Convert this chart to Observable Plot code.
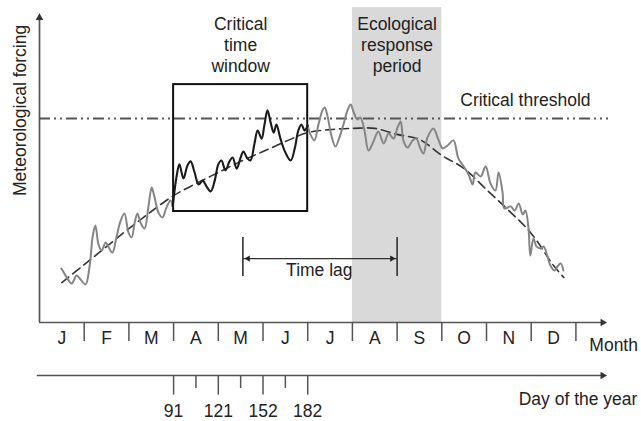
<!DOCTYPE html>
<html>
<head>
<meta charset="utf-8">
<script src="https://cdn.jsdelivr.net/npm/d3@7"></script>
<script src="https://cdn.jsdelivr.net/npm/@observablehq/plot@0.6"></script>
<style>
  html, body { margin: 0; padding: 0; background: #fff; }
  #chart svg { display: block; }
</style>
</head>
<body>
<div id="chart"></div>
<script>
// ---- data (x in months since 1 Jan, y in arbitrary forcing units) ----
const monthLabels = ["J", "F", "M", "A", "M", "J", "J", "A", "S", "O", "N", "D"];
const monthBounds = [1, 2, 3, 4, 5, 6, 7, 8, 9, 10, 11, 12];
const monthMids = [0.5, 1.5, 2.5, 3.5, 4.5, 5.5, 6.5, 7.5, 8.5, 9.5, 10.5, 11.5];
const dayTicks = [3, 4, 5, 6];
const dayLabels = ["91", "121", "152", "182"];
const dayMinorTicks = [3.5, 4.5, 5.5];
const thresholdValue = 68;
const criticalWindow = [{start: 3, end: 6, low: 37, high: 79.3}];
const responsePeriod = [{start: 7, end: 9}];
const timeLag = [{start: 4.55, end: 8.0, level: 21.3}];

// dashed seasonal trend
const trend = [
  [0.5, 13.3], [1, 19.3], [1.5, 25.3], [2, 31.3], [2.5, 37.0], [3, 42.3], [3.5, 46.3],
  [4, 50.0], [4.5, 53.7], [5, 57.0], [5.5, 60.3], [6, 63.3], [6.5, 64.3], [7, 64.7],
  [7.5, 64.7], [8, 62.7], [8.5, 61.0], [9, 55.7], [9.5, 51.3], [10, 44.3], [10.5, 37.3],
  [11, 29.7], [11.5, 19.0], [11.73, 15.0]
];

// noisy forcing, before the critical window (grey)
const forcingBefore = [
  [0.49, 18.0], [0.60, 15.3], [0.72, 13.0], [0.83, 15.7], [0.92, 14.3], [1.03, 12.7],
  [1.12, 18.7], [1.19, 28.7], [1.25, 32.3], [1.32, 26.0], [1.39, 24.0], [1.48, 26.7],
  [1.54, 25.3], [1.63, 23.3], [1.72, 28.3], [1.81, 33.7], [1.90, 36.3], [1.99, 30.0],
  [2.06, 28.3], [2.13, 33.3], [2.19, 36.3], [2.26, 33.3], [2.35, 31.3], [2.44, 39.0],
  [2.51, 45.0], [2.57, 42.0], [2.66, 36.7], [2.75, 35.0], [2.84, 38.3], [2.93, 40.7],
  [2.98, 38.7]
];

// noisy forcing inside the critical window (black)
const forcingWindow = [
  [2.98, 38.7], [3.07, 49.0], [3.13, 52.7], [3.22, 48.0], [3.31, 52.3], [3.38, 53.7],
  [3.47, 50.0], [3.56, 46.0], [3.65, 47.3], [3.74, 45.3], [3.83, 43.7], [3.92, 47.3],
  [4.00, 52.7], [4.07, 54.0], [4.16, 50.7], [4.25, 53.7], [4.32, 55.0], [4.41, 51.3],
  [4.50, 55.0], [4.56, 57.0], [4.65, 54.7], [4.72, 54.0], [4.81, 59.7], [4.88, 64.0],
  [4.97, 61.3], [5.03, 65.7], [5.10, 70.7], [5.17, 66.7], [5.24, 63.3], [5.30, 66.0],
  [5.39, 61.3], [5.50, 56.7], [5.62, 54.0], [5.71, 58.0], [5.79, 64.0], [5.86, 66.0],
  [5.93, 64.0], [6.00, 65.7]
];

// noisy forcing after the critical window (grey)
const forcingAfter = [
  [6.00, 65.7], [6.06, 62.7], [6.15, 60.7], [6.24, 66.0], [6.33, 70.7], [6.38, 71.7],
  [6.44, 69.0], [6.53, 62.3], [6.62, 58.7], [6.71, 61.7], [6.80, 66.0], [6.89, 70.7],
  [6.96, 72.7], [7.03, 70.0], [7.11, 67.7], [7.18, 68.3], [7.27, 64.0], [7.36, 57.3],
  [7.47, 60.3], [7.58, 63.7], [7.70, 59.7], [7.81, 63.0], [7.92, 61.3], [8.01, 65.0],
  [8.08, 67.0], [8.14, 60.7], [8.23, 58.3], [8.35, 60.7], [8.43, 61.3], [8.52, 58.0],
  [8.59, 56.3], [8.68, 61.7], [8.81, 64.7], [8.93, 60.7], [9.02, 58.0], [9.13, 59.0],
  [9.26, 60.7], [9.37, 54.7], [9.49, 52.0], [9.60, 49.3], [9.69, 46.0], [9.75, 50.0],
  [9.87, 48.7], [9.98, 52.0], [10.09, 46.3], [10.20, 44.0], [10.27, 50.0], [10.36, 43.3],
  [10.40, 38.0], [10.54, 38.7], [10.63, 37.3], [10.72, 39.7], [10.81, 36.0], [10.87, 37.3],
  [10.94, 31.3], [10.98, 22.3], [11.05, 28.0], [11.12, 25.3], [11.21, 24.7], [11.28, 25.3],
  [11.37, 21.7], [11.43, 19.0], [11.52, 17.3], [11.59, 18.7], [11.66, 19.7], [11.72, 17.3]
];

// ---- chart ----
const axisColor = "#555";
const textColor = "#222";
const px = d => d[0], py = d => d[1];

const chart = Plot.plot({
  width: 641,
  height: 421,
  marginLeft: 39,
  marginRight: 34.3,
  marginTop: 7,
  marginBottom: 99,
  x: {domain: [0, 12.7], label: null},
  y: {domain: [0, 105], axis: null, label: null},
  style: {
    fontFamily: '"Liberation Sans", Arial, Helvetica, sans-serif',
    fontSize: "17.5px",
    color: textColor,
    background: "#fff",
    overflow: "visible"
  },
  marks: [
    // ecological response period
    Plot.rect(responsePeriod, {x1: "start", x2: "end", y1: 0, y2: 105, fill: "#d9d9d9"}),
    // critical threshold
    Plot.ruleY([thresholdValue], {x1: 0, x2: 12.73, stroke: "#555", strokeWidth: 2, strokeDasharray: "11,4,2,4,2,4"}),
    // critical time window box
    Plot.rect(criticalWindow, {x1: "start", x2: "end", y1: "low", y2: "high", fill: "none", stroke: "#111", strokeWidth: 2}),
    // seasonal trend
    Plot.line(trend, {x: px, y: py, curve: "catmull-rom", stroke: "#333", strokeWidth: 1.6, strokeDasharray: "9,5"}),
    // noisy forcing
    Plot.line(forcingBefore, {x: px, y: py, curve: "catmull-rom", stroke: "#858585", strokeWidth: 2}),
    Plot.line(forcingAfter, {x: px, y: py, curve: "catmull-rom", stroke: "#858585", strokeWidth: 2}),
    Plot.line(forcingWindow, {x: px, y: py, curve: "catmull-rom", stroke: "#1a1a1a", strokeWidth: 2.1}),

    // time lag
    Plot.ruleX(timeLag, {x: "start", y1: 15.3, y2: 28.3, stroke: "#333", strokeWidth: 1.6}),
    Plot.ruleX(timeLag, {x: "end", y1: 15.3, y2: 28.3, stroke: "#333", strokeWidth: 1.6}),
    Plot.ruleY(timeLag, {y: "level", x1: "start", x2: "end", stroke: "#333", strokeWidth: 1.4}),
    Plot.dot(timeLag, {x: d => d.start + 0.115, y: "level", symbol: "triangle", r: 2.3, rotate: -90, fill: "#222", stroke: "none"}),
    Plot.dot(timeLag, {x: d => d.end - 0.115, y: "level", symbol: "triangle", r: 2.3, rotate: 90, fill: "#222", stroke: "none"}),

    // main axes
    Plot.ruleX([0], {y1: 0, y2: 101, stroke: axisColor, strokeWidth: 1.7}),
    Plot.ruleY([0], {x1: 0, x2: 12.6, stroke: axisColor, strokeWidth: 1.7}),
    Plot.dot([[0, 101.6]], {x: px, y: py, symbol: "triangle", r: 2.8, rotate: 0, fill: "#333", stroke: "none"}),
    Plot.dot([[12.6, 0]], {x: px, y: py, symbol: "triangle", r: 2.8, rotate: 90, fill: "#333", stroke: "none"}),

    // month axis
    Plot.axisX(monthBounds, {tickSize: 19, tickFormat: () => "", stroke: axisColor, strokeWidth: 1.5, label: null}),
    Plot.axisX(monthMids, {tickSize: 0, tickPadding: 9, tickFormat: d => monthLabels[Math.floor(d)], fill: textColor, label: null}),
    Plot.text(["Month"], {x: 12.3, y: -7.5, text: d => d, textAnchor: "start", fill: textColor}),

    // day-of-year axis
    Plot.ruleY([-17.7], {x1: -0.05, x2: 12.6, stroke: axisColor, strokeWidth: 1.5}),
    Plot.dot([[12.6, -17.7]], {x: px, y: py, symbol: "triangle", r: 2.8, rotate: 90, fill: "#333", stroke: "none"}),
    Plot.ruleX(dayTicks, {x: d => d, y1: -17.7, y2: -24.2, stroke: axisColor, strokeWidth: 1.5}),
    Plot.ruleX(dayMinorTicks, {x: d => d, y1: -17.7, y2: -22, stroke: axisColor, strokeWidth: 1.5}),
    Plot.text(dayTicks, {x: d => d, y: -29.6, text: (d, i) => dayLabels[i], fill: textColor}),
    Plot.text(["Day of the year"], {x: 10.72, y: -25.5, text: d => d, textAnchor: "start", fill: textColor}),

    // annotations
    Plot.text(["Critical\ntime\nwindow"], {x: 4.5, y: 92.6, text: d => d, lineHeight: 1.2, fill: textColor}),
    Plot.text(["Ecological\nresponse\nperiod"], {x: 8.0, y: 92.6, text: d => d, lineHeight: 1.2, fill: textColor}),
    Plot.text(["Critical threshold"], {x: 10.87, y: 73.9, text: d => d, fill: textColor}),
    Plot.text(["Time lag"], {x: 6.26, y: 17.5, text: d => d, fill: textColor}),
    Plot.text(["Meteorological forcing"], {x: -0.42, y: 70.7, text: d => d, rotate: -90, fill: textColor})
  ]
});

document.getElementById("chart").appendChild(chart);
</script>
</body>
</html>
